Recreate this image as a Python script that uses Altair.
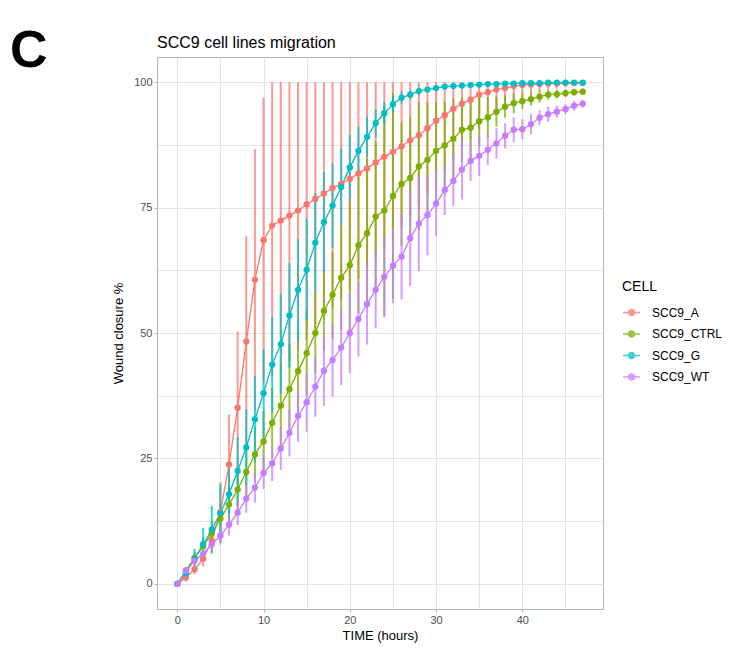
import altair as alt
import pandas as pd

# ---------------- data ----------------
time_h = list(range(48))
cells = ["SCC9_A", "SCC9_CTRL", "SCC9_G", "SCC9_WT"]
colors = ["#F8766D", "#7CAE00", "#00BFC4", "#C77CFF"]

a_mean = [0, 1.3, 2.9, 5.0, 8.6, 14.3, 23.8, 35.1, 48.3, 60.6,
          68.5, 71.4, 72.4, 73.4, 74.4, 75.6, 76.7, 77.8, 78.9, 79.7,
          80.7, 81.8, 82.8, 84.0, 85.1, 86.1, 87.2, 88.4, 89.4, 90.8,
          92.3, 93.4, 94.7, 95.7, 96.5, 97.5, 98.0, 98.5, 98.8, 99.2,
          99.4, 99.5, 99.6, 99.7, 99.7, 99.8, 99.8, 99.8]
a_sd = [0, 0.8, 1.0, 1.5, 2.2, 6.0, 10.0, 15.2, 21.0, 26.0,
        28.4, 30, 30, 29, 28, 27, 26, 25, 24, 23,
        22, 21, 20, 19, 18, 17, 16, 15, 14, 13,
        12, 11, 10, 9, 8, 7, 6, 5, 4, 3,
        2.5, 2, 1.5, 1.2, 1.0, 0.8, 0.6, 0.5]

ctrl_mean = [0, 2.7, 5.2, 7.5, 10.1, 13.0, 15.8, 18.8, 22.3, 25.8,
             28.4, 32.1, 35.5, 38.8, 42.4, 46.0, 50.0, 54.4, 57.6, 61.0,
             63.5, 67.5, 69.9, 73.2, 74.4, 77.3, 79.7, 80.9, 83.2, 84.5,
             86.3, 87.4, 88.7, 90.5, 90.9, 92.2, 93.0, 94.1, 95.1, 95.8,
             96.2, 96.6, 97.1, 97.5, 97.6, 97.8, 98.0, 98.1]
ctrl_sd = [0, 0.6, 1.2, 1.8, 2.4, 3.0, 3.5, 4.0, 5.0, 5.5,
           6.0, 7.0, 8.0, 9.0, 9.0, 8.5, 8.0, 8.0, 8.6, 10.3,
           13.0, 13.6, 15.0, 15.0, 21.0, 20.5, 12.3, 12.1, 12.8, 11.5,
           9.7, 8.6, 8.0, 6.5, 6.0, 5.0, 4.0, 3.0, 2.2, 2.0,
           1.6, 1.3, 1.2, 1.0, 0.9, 0.8, 0.7, 0.6]

g_mean = [0, 2.1, 5.0, 7.9, 10.8, 14.1, 17.9, 22.5, 27.2, 32.8,
          38.0, 43.7, 47.8, 53.5, 58.6, 62.6, 68.0, 72.1, 75.4, 79.1,
          83.0, 86.3, 89.1, 91.8, 93.8, 95.6, 96.9, 97.5, 98.2, 98.5,
          98.8, 99.1, 99.2, 99.3, 99.4, 99.5, 99.6, 99.6, 99.7, 99.7,
          99.8, 99.8, 99.8, 99.9, 99.9, 99.9, 99.9, 99.9]
g_sd = [0, 1.0, 2.0, 3.3, 4.8, 5.8, 6.2, 6.8, 7.6, 8.6,
        8.8, 9.5, 10.0, 10.4, 10.1, 10.2, 9.9, 10.0, 8.4, 7.7,
        6.4, 4.8, 4.0, 2.8, 2.2, 1.6, 1.2, 0.9, 0.7, 0.5,
        0.4, 0.3, 0.3, 0.3, 0.2, 0.2, 0.2, 0.2, 0.2, 0.2,
        0.1, 0.1, 0.1, 0.1, 0.1, 0.1, 0.1, 0.1]

wt_mean = [0, 2.6, 4.6, 6.0, 7.9, 9.6, 11.8, 14.2, 17.0, 19.2,
           22.1, 24.0, 27.0, 30.1, 33.5, 36.2, 39.3, 42.5, 44.6, 47.1,
           50.0, 52.8, 55.8, 58.6, 61.2, 63.4, 65.2, 68.9, 71.8, 73.5,
           75.8, 78.5, 80.3, 82.6, 84.3, 85.3, 86.5, 87.8, 89.3, 90.5,
           90.6, 91.6, 92.9, 93.6, 94.1, 94.6, 95.3, 95.7]
wt_sd = [0, 0.5, 0.8, 1.0, 1.3, 1.8, 2.2, 2.5, 2.8, 3.0,
         3.2, 3.5, 4.3, 4.7, 5.2, 5.9, 6.0, 7.0, 7.3, 7.5,
         8.0, 7.5, 8.1, 7.7, 8.1, 7.5, 8.5, 9.5, 9.5, 8.0,
         6.5, 5.0, 5.0, 6.0, 4.0, 4.0, 3.0, 3.0, 2.5, 2.5,
         2.0, 2.0, 1.5, 1.5, 1.2, 1.0, 1.0, 0.8]

title_text = "SCC9 cell lines migration"
panel_tag = "C"

means = [a_mean, ctrl_mean, g_mean, wt_mean]
sds = [a_sd, ctrl_sd, g_sd, wt_sd]

rows = []
for ci, (cell, m_list, s_list) in enumerate(zip(cells, means, sds)):
    for t, m, s in zip(time_h, m_list, s_list):
        rows.append({"TIME": t, "CELL": cell, "order": ci, "mean": m,
                     "lo": m - s, "hi": min(100.0, m + s)})
df = pd.DataFrame(rows)

FONT = "Liberation Sans"

x_enc = alt.X(
    "TIME:Q",
    title="TIME (hours)",
    scale=alt.Scale(domain=[-2.35, 49.35], nice=False, zero=False),
    axis=alt.Axis(
        values=[0, 5, 10, 15, 20, 25, 30, 35, 40, 45],
        labelExpr="datum.value % 10 == 0 ? datum.label : ''",
        tickOpacity={"condition": {"test": "datum.value % 10 != 0", "value": 0}, "value": 1},
    ),
)
y_scale = alt.Scale(domain=[-5, 105], nice=False, zero=False)
y_axis = alt.Axis(
    values=[0, 12.5, 25, 37.5, 50, 62.5, 75, 87.5, 100],
    labelExpr="datum.value % 25 == 0 ? format(datum.value, 'd') : ''",
    tickOpacity={"condition": {"test": "datum.value % 25 != 0", "value": 0}, "value": 1},
)

color_enc = alt.Color(
    "CELL:N",
    scale=alt.Scale(domain=cells, range=colors),
    legend=alt.Legend(
        title="CELL",
        orient="none",
        legendX=465,
        legendY=223,
        symbolType="M-1,0L1,0M-0.36,0a0.36,0.36 0 1,0 0.72,0a0.36,0.36 0 1,0 -0.72,0",
        symbolSize=290,
        symbolStrokeWidth=1.4,
        rowPadding=5.5,
        labelOffset=11,
        titlePadding=9,
        titleFontSize=14,
        titleFontWeight="normal",
        titleColor="black",
        labelFontSize=12,
        labelColor="black",
        titleFont=FONT,
        labelFont=FONT,
    ),
)

base = alt.Chart(df).encode(x=x_enc, color=color_enc, order=alt.Order("order:Q"))

errbars = base.mark_rule(strokeWidth=2, opacity=0.75).encode(
    y=alt.Y("lo:Q", title="Wound closure %", scale=y_scale, axis=y_axis),
    y2="hi:Q",
)
lines = base.mark_line(strokeWidth=1.3).encode(
    y=alt.Y("mean:Q", scale=y_scale),
    detail="CELL:N",
)
points = base.mark_point(filled=True, size=40, opacity=1).encode(
    y=alt.Y("mean:Q", scale=y_scale),
)

panel_label = alt.Chart(pd.DataFrame({"lab": [panel_tag]})).mark_text(
    fontSize=52, fontWeight="bold", font=FONT, align="left", baseline="alphabetic", color="black"
).encode(x=alt.value(-147), y=alt.value(10), text="lab:N")

title_mark = alt.Chart(pd.DataFrame({"lab": [title_text]})).mark_text(
    fontSize=16, font=FONT, align="left", baseline="alphabetic", color="black"
).encode(x=alt.value(0), y=alt.value(-9), text="lab:N")

chart = alt.layer(errbars, lines, points, panel_label, title_mark).properties(
    width=446,
    height=552,
    autosize=alt.AutoSizeParams(type="none"),
    padding={"left": 149, "top": 49, "right": 128, "bottom": 46},
).configure_view(
    stroke="#b3b3b3", strokeWidth=1
).configure_axis(
    grid=True,
    gridColor="#e3e3e3",
    gridWidth=1,
    domain=False,
    tickColor="#b3b3b3",
    tickSize=3,
    labelColor="#4d4d4d",
    labelFontSize=11,
    labelFont=FONT,
    labelPadding=2,
    titleFont=FONT,
    titleFontSize=13,
    titleFontWeight="normal",
    titleColor="black",
).configure_axisY(
    titlePadding=8,
).configure_axisX(
    titlePadding=4,
)

chart.save("out.html", embed_options={"renderer": "svg", "actions": False})
